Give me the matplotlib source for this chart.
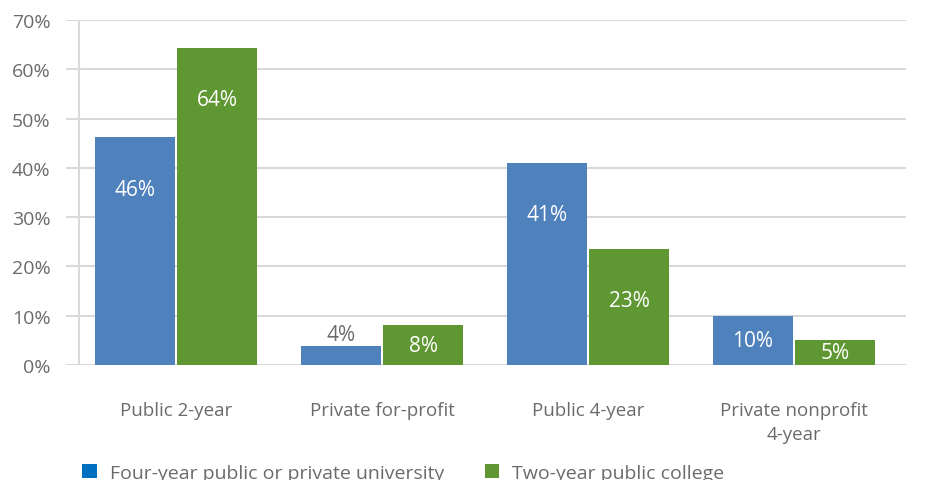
import matplotlib.pyplot as plt
import matplotlib.patches as mpatches
import numpy as np

plt.rcParams.update({
    "font.family": ["Open Sans", "DejaVu Sans"],
    "figure.dpi": 100,
})

categories = ["Public 2-year", "Private for-profit", "Public 4-year", "Private nonprofit\n4-year"]
university = [46.2, 3.9, 41.0, 10.0]
college = [64.3, 8.1, 23.5, 5.1]
label_univ = ["46%", "4%", "41%", "10%"]
label_coll = ["64%", "8%", "23%", "5%"]
yticks = [0, 10, 20, 30, 40, 50, 60, 70]

BLUE = "#4F81BD"
GREEN = "#5F9732"
GREY = "#6b6b6b"
GRID = "#d9d9d9"

fig = plt.figure(figsize=(9.42, 4.81))
ax = fig.add_axes([66 / 942, 115 / 481, 840 / 942, 345 / 481])

x = np.arange(len(categories))
w = 0.39
off = 0.2
ax.bar(x - off, university, w, color=BLUE, zorder=3)
ax.bar(x + off, college, w, color=GREEN, zorder=3)


def label_y(v):
    # inside the bar, near the top for tall bars, centred for short ones
    return max(v / 2, v - 10.5)


for xi, v, s in zip(x, university, label_univ):
    if v < 5:
        ax.text(xi - off, v + 0.2, s, ha="center", va="bottom", fontsize=15, color=GREY, zorder=4)
    else:
        ax.text(xi - off, label_y(v), s, ha="center", va="center", fontsize=15, color="white", zorder=4)
for xi, v, s in zip(x, college, label_coll):
    ax.text(xi + off, label_y(v), s, ha="center", va="center", fontsize=15, color="white", zorder=4)

ax.set_ylim(0, 70)
ax.set_xlim(-0.534, 3.544)
ax.set_yticks(yticks)
ax.set_yticklabels([f"{t}%" for t in yticks])
ax.yaxis.grid(True, color=GRID, linewidth=1.5, zorder=0)
ax.axvline(-0.471, color=GRID, linewidth=1.5, zorder=1)
ax.set_xticks(x)
ax.set_xticklabels(categories, linespacing=1.45)
ax.tick_params(axis="x", length=0, pad=26, labelsize=13.5, labelcolor=GREY)
ax.tick_params(axis="y", length=0, pad=11, labelsize=14, labelcolor=GREY)
for sp in ax.spines.values():
    sp.set_visible(False)

handles = [
    mpatches.Patch(facecolor="#0070C0", edgecolor="none", label="Four-year public or private university"),
    mpatches.Patch(facecolor=GREEN, edgecolor="none", label="Two-year public college"),
]
fig.legend(handles=handles, loc="lower left", bbox_to_anchor=(0.069, -0.04), ncol=2,
           frameon=False, fontsize=14, labelcolor=GREY, handlelength=0.75, handleheight=0.75,
           handletextpad=0.65, columnspacing=2.1)

fig.savefig("out.png", dpi=100)
